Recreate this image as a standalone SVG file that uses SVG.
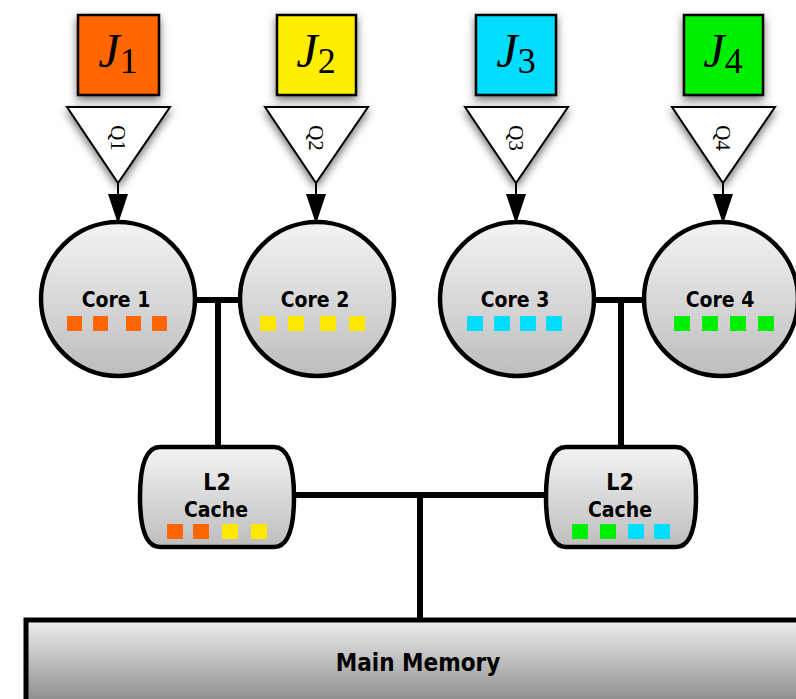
<svg xmlns="http://www.w3.org/2000/svg" width="796" height="699" viewBox="0 0 796 699">
  <defs>
    <linearGradient id="gCore" x1="0" y1="0" x2="0" y2="1">
      <stop offset="0" stop-color="#f4f4f4"/>
      <stop offset="1" stop-color="#bdbdbd"/>
    </linearGradient>
    <linearGradient id="gMem" x1="0" y1="0" x2="0" y2="1">
      <stop offset="0" stop-color="#efefef"/>
      <stop offset="1" stop-color="#777777"/>
    </linearGradient>
    <filter id="shadow" x="-40%" y="-40%" width="180%" height="180%">
      <feDropShadow dx="0" dy="4" stdDeviation="4" flood-color="#000" flood-opacity="0.55"/>
    </filter>
    <marker id="arrow" viewBox="0 0 30 20" refX="30" refY="10" markerWidth="30" markerHeight="20" markerUnits="userSpaceOnUse" orient="auto">
      <path d="M0,0 L30,10 L0,20 Z" fill="#000"/>
    </marker>
  </defs>
  <style>
    .job { stroke: #000; stroke-width: 2.5; filter: url(#shadow); }
    .queue { fill: #fff; stroke: #000; stroke-width: 2; filter: url(#shadow); }
    .jlabel { font-family: "Liberation Serif", serif; font-size: 48px; fill: #000; }
    .qlabel { font-family: "Liberation Serif", serif; font-size: 21px; fill: #000; }
    .core { fill: url(#gCore); stroke: #000; stroke-width: 4.5; }
    .cache { fill: url(#gCore); stroke: #000; stroke-width: 4.5; }
    .mem { fill: url(#gMem); stroke: #000; stroke-width: 5; }
    .lbl { font-family: "DejaVu Sans Condensed", "DejaVu Sans", sans-serif; font-stretch: condensed; font-weight: 900; font-size: 21px; fill: #000; text-anchor: middle; }
    .lbl.big { font-size: 23px; }
    .lbl.mm { font-size: 24px; }
    .bus { stroke: #000; stroke-width: 6; fill: none; }
    .feed { stroke: #000; stroke-width: 2; fill: none; }
    .o { fill: #ff6600; } .y { fill: #ffe800; } .c { fill: #00ddff; } .g { fill: #00ee00; }
  </style>

  <!-- buses and queue feeds -->
  <g id="connectors">
    <path class="bus" d="M194,300 H242 M218,300 V447"/>
    <path class="bus" d="M593,300 H645 M621,300 V447"/>
    <path class="bus" d="M292,495 H547 M420,495 V620"/>
    <line class="feed" x1="118" y1="183" x2="118" y2="224" marker-end="url(#arrow)"/>
    <line class="feed" x1="316" y1="183" x2="316" y2="224" marker-end="url(#arrow)"/>
    <line class="feed" x1="516" y1="183" x2="516" y2="224" marker-end="url(#arrow)"/>
    <line class="feed" x1="723" y1="183" x2="723" y2="224" marker-end="url(#arrow)"/>
  </g>

  <!-- jobs -->
  <g id="job1">
    <rect class="job" x="78" y="15" width="81" height="80" fill="#ff6600"/>
    <text class="jlabel" x="118" y="67" text-anchor="middle"><tspan font-style="italic">J</tspan><tspan font-size="36" dy="6">1</tspan></text>
  </g>
  <g id="job2">
    <rect class="job" x="277" y="15" width="79" height="80" fill="#ffee00"/>
    <text class="jlabel" x="316" y="67" text-anchor="middle"><tspan font-style="italic">J</tspan><tspan font-size="36" dy="6">2</tspan></text>
  </g>
  <g id="job3">
    <rect class="job" x="476" y="15" width="80" height="80" fill="#00ddff"/>
    <text class="jlabel" x="516" y="67" text-anchor="middle"><tspan font-style="italic">J</tspan><tspan font-size="36" dy="6">3</tspan></text>
  </g>
  <g id="job4">
    <rect class="job" x="684" y="15" width="79" height="80" fill="#00ee00"/>
    <text class="jlabel" x="723" y="67" text-anchor="middle"><tspan font-style="italic">J</tspan><tspan font-size="36" dy="6">4</tspan></text>
  </g>

  <!-- queues -->
  <g id="queue1">
    <path class="queue" d="M67,107 H170 L118,183 Z"/>
    <text class="qlabel" transform="translate(118,138) rotate(90)" text-anchor="middle" dy="7">Q1</text>
  </g>
  <g id="queue2">
    <path class="queue" d="M265,107 H368 L316,183 Z"/>
    <text class="qlabel" transform="translate(316,138) rotate(90)" text-anchor="middle" dy="7">Q2</text>
  </g>
  <g id="queue3">
    <path class="queue" d="M465,107 H568 L516,183 Z"/>
    <text class="qlabel" transform="translate(516,138) rotate(90)" text-anchor="middle" dy="7">Q3</text>
  </g>
  <g id="queue4">
    <path class="queue" d="M672,107 H775 L723,183 Z"/>
    <text class="qlabel" transform="translate(723,138) rotate(90)" text-anchor="middle" dy="7">Q4</text>
  </g>

  <!-- cores -->
  <g id="core1">
    <circle class="core" cx="118" cy="299" r="77"/>
    <text class="lbl" x="116" y="307">Core 1</text>
    <rect class="o" x="67" y="316" width="15" height="15"/>
    <rect class="o" x="93" y="316" width="15" height="15"/>
    <rect class="o" x="126" y="316" width="15" height="15"/>
    <rect class="o" x="152" y="316" width="15" height="15"/>
  </g>
  <g id="core2">
    <circle class="core" cx="317" cy="299" r="77"/>
    <text class="lbl" x="315" y="307">Core 2</text>
    <rect class="y" x="260" y="316" width="16" height="15"/>
    <rect class="y" x="288" y="316" width="16" height="15"/>
    <rect class="y" x="320" y="316" width="16" height="15"/>
    <rect class="y" x="349" y="316" width="16" height="15"/>
  </g>
  <g id="core3">
    <circle class="core" cx="517" cy="299" r="77"/>
    <text class="lbl" x="515" y="307">Core 3</text>
    <rect class="c" x="467" y="316" width="16" height="15"/>
    <rect class="c" x="494" y="316" width="16" height="15"/>
    <rect class="c" x="520" y="316" width="16" height="15"/>
    <rect class="c" x="546" y="316" width="16" height="15"/>
  </g>
  <g id="core4">
    <circle class="core" cx="721" cy="299" r="77"/>
    <text class="lbl" x="720" y="307">Core 4</text>
    <rect class="g" x="674" y="316" width="16" height="15"/>
    <rect class="g" x="702" y="316" width="16" height="15"/>
    <rect class="g" x="730" y="316" width="16" height="15"/>
    <rect class="g" x="758" y="316" width="16" height="15"/>
  </g>

  <!-- shared L2 caches -->
  <g id="cache1">
    <path class="cache" d="M160,447 H274 C290,447 294,470 294,497 C294,524 290,547 274,547 H160 C144,547 140,524 140,497 C140,470 144,447 160,447 Z"/>
    <text class="lbl big" x="217" y="490">L2</text>
    <text class="lbl" x="216" y="517">Cache</text>
    <rect class="o" x="167" y="524" width="16" height="15"/>
    <rect class="o" x="193" y="524" width="16" height="15"/>
    <rect class="y" x="222" y="524" width="16" height="15"/>
    <rect class="y" x="251" y="524" width="16" height="15"/>
  </g>
  <g id="cache2">
    <path class="cache" d="M566,447 H676 C692,447 696,470 696,497 C696,524 692,547 676,547 H566 C550,547 546,524 546,497 C546,470 550,447 566,447 Z"/>
    <text class="lbl big" x="620" y="490">L2</text>
    <text class="lbl" x="620" y="517">Cache</text>
    <rect class="g" x="572" y="524" width="16" height="15"/>
    <rect class="g" x="600" y="524" width="16" height="15"/>
    <rect class="c" x="628" y="524" width="16" height="15"/>
    <rect class="c" x="654" y="524" width="16" height="15"/>
  </g>

  <!-- main memory -->
  <g id="memory">
    <rect class="mem" x="26" y="620" width="790" height="100"/>
    <text class="lbl mm" x="418" y="671">Main Memory</text>
  </g>
</svg>
